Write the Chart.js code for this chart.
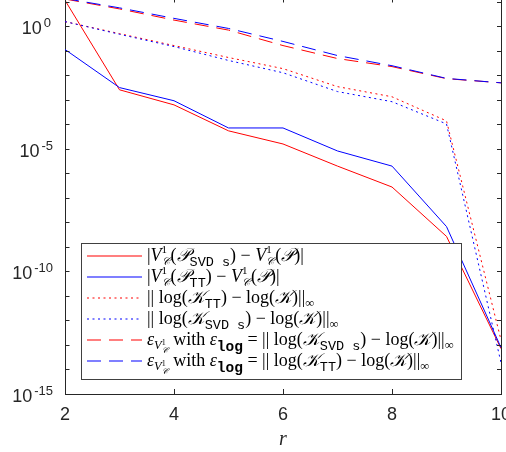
<!DOCTYPE html>
<html><head><meta charset="utf-8">
<script src="https://cdn.jsdelivr.net/npm/chart.js@4.4.1/dist/chart.umd.min.js"></script>
<style>html,body{margin:0;padding:0;background:#fff;overflow:hidden}#wrap{width:506px;height:452px}</style>
</head><body><div id="wrap"><canvas id="c" width="506" height="452"></canvas></div>
<script>
const ranks = [2, 3, 4, 5, 6, 7, 8, 9, 10];
const vSvdsErr   = [11.7, 2.6e-3, 6.3e-4, 5.5e-5, 1.6e-5, 2.0e-6, 2.8e-7, 2.7e-9, 7.1e-14];
const vTtErr     = [0.115, 3.2e-3, 9.3e-4, 7.2e-5, 7.2e-5, 8.3e-6, 2.0e-6, 6.8e-9, 7.9e-14];
const logTtErr   = [1.58, 0.51, 0.166, 0.054, 0.019, 3.5e-3, 1.35e-3, 1.4e-4, 1.6e-13];
const logSvdsErr = [1.58, 0.48, 0.151, 0.041, 0.0129, 2.2e-3, 8.5e-4, 1.05e-4, 1.9e-14];
const boundSvds  = [13.2, 5.2, 1.82, 0.71, 0.166, 0.049, 0.023, 7.4e-3, 5.0e-3];
const boundTt    = [13.8, 5.75, 2.14, 0.83, 0.245, 0.065, 0.025, 7.6e-3, 5.0e-3];
const xTickValues = [2, 4, 6, 8, 10];
const yLabelExps = [-15, -10, -5, 0];
const yMinorExps = [-15,-14,-13,-12,-11,-10,-9,-8,-7,-6,-5,-4,-3,-2,-1,0,1];
const seriesLabels = [
  '|V¹_𝒞(𝒫_SVD s) − V¹_𝒞(𝒫)|',
  '|V¹_𝒞(𝒫_TT) − V¹_𝒞(𝒫)|',
  '|| log(𝒦_TT) − log(𝒦)||_∞',
  '|| log(𝒦_SVD s) − log(𝒦)||_∞',
  'ε_V¹_𝒞 with ε_log = || log(𝒦_SVD s) − log(𝒦)||_∞',
  'ε_V¹_𝒞 with ε_log = || log(𝒦_TT) − log(𝒦)||_∞'
];
const xTitle = 'r';

const RED = '#ff0000', BLUE = '#0000ff', AX = '#262626';
const seriesData = [vSvdsErr, vTtErr, logTtErr, logSvdsErr, boundSvds, boundTt];
const seriesColors = [RED, BLUE, RED, BLUE, RED, BLUE];
const DOT = [2, 3.5], DASH = [14, 8];
const seriesDash = [[], [], DOT, DOT, DASH, DASH];

// rich-text fonts for legend
const B = 18;
const R = s => `${s}px "Liberation Serif"`;
const I = s => `italic ${s}px "Liberation Serif"`;
const CAL = s => `italic ${s}px "DejaVu Serif", "DejaVu Sans", "Liberation Serif"`;
const M = s => `${s}px "Liberation Mono"`;
const V1C = [{t:'V', f:I(B)}, {stack:[{t:'1', f:R(11), dy:-8}, {t:'𝒞', f:CAL(11), dy:4}]}];
const SUBS = t => ({t, f:M(13.5), dy:5});
const INF = {t:'∞', f:R(12.5), dy:4};
const EPSV = [{t:'ε', f:I(B)}, {t:'V', f:I(12.5), dy:4}, {stack:[{t:'1', f:R(8), dy:0}, {t:'𝒞', f:CAL(8), dy:8}]}];
const EPSLOG = [{t:' with ', f:R(B)}, {t:'ε', f:I(B)}, {t:'log', f:'bold '+M(14.5), dy:6}, {t:' = ', f:R(B)}];
const legendRich = [
  [{t:'|', f:R(B)}, ...V1C, {t:'(', f:R(B)}, {t:'𝒫', f:CAL(B)}, SUBS('SVD s'), {t:') − ', f:R(B)}, ...V1C, {t:'(', f:R(B)}, {t:'𝒫', f:CAL(B)}, {t:')|', f:R(B)}],
  [{t:'|', f:R(B)}, ...V1C, {t:'(', f:R(B)}, {t:'𝒫', f:CAL(B)}, SUBS('TT'), {t:') − ', f:R(B)}, ...V1C, {t:'(', f:R(B)}, {t:'𝒫', f:CAL(B)}, {t:')|', f:R(B)}],
  [{t:'|| log(', f:R(B)}, {t:'𝒦', f:CAL(B)}, SUBS('TT'), {t:') − log(', f:R(B)}, {t:'𝒦', f:CAL(B)}, {t:')||', f:R(B)}, INF],
  [{t:'|| log(', f:R(B)}, {t:'𝒦', f:CAL(B)}, SUBS('SVD s'), {t:') − log(', f:R(B)}, {t:'𝒦', f:CAL(B)}, {t:')||', f:R(B)}, INF],
  [...EPSV, ...EPSLOG, {t:'|| log(', f:R(B)}, {t:'𝒦', f:CAL(B)}, SUBS('SVD s'), {t:') − log(', f:R(B)}, {t:'𝒦', f:CAL(B)}, {t:')||', f:R(B)}, INF],
  [...EPSV, ...EPSLOG, {t:'|| log(', f:R(B)}, {t:'𝒦', f:CAL(B)}, SUBS('TT'), {t:') − log(', f:R(B)}, {t:'𝒦', f:CAL(B)}, {t:')||', f:R(B)}, INF]
];

function drawRich(ctx, x, y, toks) {
  for (const tk of toks) {
    if (tk.stack) {
      let w = 0;
      for (const s of tk.stack) { ctx.font = s.f; ctx.fillText(s.t, x, y + s.dy); w = Math.max(w, ctx.measureText(s.t).width); }
      x += w + 1;
    } else {
      ctx.font = tk.f; ctx.fillText(tk.t, x, y + (tk.dy || 0)); x += ctx.measureText(tk.t).width;
    }
  }
  return x;
}

const decorPlugin = {
  id: 'decor',
  afterDraw(chart) {
    const ctx = chart.ctx, a = chart.chartArea, xs = chart.scales.x, ys = chart.scales.y;
    ctx.save();
    ctx.strokeStyle = AX; ctx.lineWidth = 1;
    // right axis line
    ctx.beginPath(); ctx.moveTo(a.right + 0.5, a.top); ctx.lineTo(a.right + 0.5, a.bottom); ctx.stroke();
    // y ticks (inward, both sides)
    ctx.beginPath();
    for (const e of yMinorExps) {
      const y = Math.round(ys.getPixelForValue(Math.pow(10, e))) + 0.5;
      if (y < a.top || y > a.bottom + 1) continue;
      ctx.moveTo(a.left, y); ctx.lineTo(a.left + 4.5, y);
      ctx.moveTo(a.right, y); ctx.lineTo(a.right - 4, y);
    }
    // x ticks (inward, bottom and top)
    for (const v of xTickValues) {
      const x = Math.round(xs.getPixelForValue(v)) + 0.5;
      ctx.moveTo(x, a.bottom); ctx.lineTo(x, a.bottom - 5);
      ctx.moveTo(x, a.top); ctx.lineTo(x, a.top + 2.5);
    }
    ctx.stroke();
    // y tick labels 10^e
    ctx.fillStyle = AX; ctx.textBaseline = 'alphabetic';
    for (const e of yLabelExps) {
      const y = ys.getPixelForValue(Math.pow(10, e));
      const sup = e === 0 ? '0' : '-' + Math.abs(e);
      const rx = e === 0 ? 51 : 53;
      ctx.font = '13px "Liberation Sans"';
      ctx.textAlign = 'right';
      ctx.fillText(sup, rx, y + 1);
      const sw = ctx.measureText(sup).width;
      ctx.font = '18px "Liberation Sans"';
      ctx.fillText('10', rx - sw - 2, y + 8);
    }
    // legend
    const L = 81, T = 243, W = 380, H = 136;
    ctx.fillStyle = '#ffffff'; ctx.fillRect(L, T, W, H);
    ctx.strokeStyle = '#404040'; ctx.lineWidth = 1;
    ctx.strokeRect(L + 0.5, T + 0.5, W, H);
    const rowY = [256, 277, 298, 319, 340, 361];
    for (let i = 0; i < 6; i++) {
      const cy = rowY[i];
      ctx.save();
      ctx.strokeStyle = seriesColors[i]; ctx.lineWidth = 1.2;
      ctx.setLineDash(seriesDash[i]);
      ctx.beginPath(); ctx.moveTo(87, cy); ctx.lineTo(142, cy); ctx.stroke();
      ctx.restore();
      ctx.fillStyle = '#000'; ctx.textAlign = 'left';
      drawRich(ctx, 147, rowY[i] + 5, legendRich[i]);
    }
    ctx.restore();
  }
};

new Chart(document.getElementById('c'), {
  type: 'line',
  data: {
    datasets: seriesData.map((arr, i) => ({
      label: seriesLabels[i],
      data: ranks.map((r, j) => ({x: r, y: arr[j]})),
      borderColor: seriesColors[i],
      backgroundColor: seriesColors[i],
      borderWidth: 1,
      borderDash: seriesDash[i],
      pointRadius: 0,
      tension: 0,
      fill: false,
      order: -i
    }))
  },
  options: {
    responsive: false,
    animation: false,
    devicePixelRatio: 1,
    layout: {padding: {top: 0, right: 5, left: 0, bottom: 0}},
    plugins: {legend: {display: false}, tooltip: {enabled: false}},
    scales: {
      x: {
        type: 'linear', min: 2, max: 10,
        afterBuildTicks: s => { s.ticks = xTickValues.map(v => ({value: v})); },
        ticks: {font: {family: 'Liberation Sans', size: 18}, color: AX, padding: 10, maxRotation: 0, autoSkip: false},
        grid: {display: false, drawTicks: false},
        border: {display: true, color: AX, width: 1},
        title: {display: true, text: xTitle, color: AX, font: {family: 'Liberation Serif', size: 20, style: 'italic'}, padding: {top: 1, bottom: 0}},
        afterFit: s => { s.height = 58; s.paddingLeft = 0; s.paddingRight = 0; }
      },
      y: {
        type: 'logarithmic', min: 1e-15, max: 12.02,
        ticks: {display: false},
        grid: {display: false},
        border: {display: true, color: AX, width: 1},
        afterFit: s => { s.width = 65; s.paddingTop = 0; s.paddingBottom = 0; }
      }
    }
  },
  plugins: [decorPlugin]
});
</script>
</body></html>
